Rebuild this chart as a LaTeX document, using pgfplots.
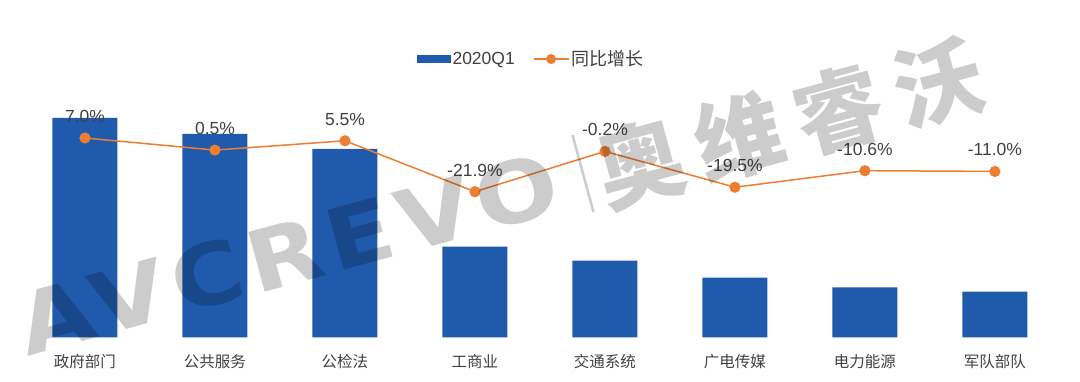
\documentclass[border=0pt]{standalone}
\usepackage{pgfplots}
\pgfplotsset{compat=1.18}
\usepackage{fontspec}
\setmainfont{Liberation Sans}
\newfontfamily\cjk{Noto Sans CJK SC}
\newfontfamily\wmfont{DejaVu Sans}
\definecolor{barblue}{HTML}{1F5AAD}
\definecolor{lineor}{HTML}{ED7D31}
\definecolor{txt}{HTML}{404040}
\begin{document}
\begin{tikzpicture}
\useasboundingbox (0,0) rectangle (1080pt,382pt);
\begin{axis}[
  at={(20pt,44.7pt)}, anchor=south west,
  scale only axis, width=1040pt, height=237.3pt,
  xmin=-0.5, xmax=7.5, ymin=0, ymax=237.3,
  axis line style={draw=none}, tick style={draw=none},
  major tick length=0pt,
  ytick=\empty,
  xtick={0,1,2,3,4,5,6,7},
  xticklabels={政府部门,公共服务,公检法,工商业,交通系统,广电传媒,电力能源,军队部队},
  xticklabel style={font=\cjk\fontsize{15.5}{18}\selectfont, text=txt, anchor=center, yshift=-24pt},
  clip=false,
  legend columns=2,
  legend style={at={(0.4913,1.1728)}, anchor=center, draw=none, fill=none,
    font=\fontsize{17.5}{20}\selectfont, text=txt, inner sep=0pt,
    /tikz/every even column/.append style={column sep=16pt}},
]
\addplot[ybar, bar width=65pt, fill=barblue, draw=none,
  legend image code/.code={\fill[barblue] (0pt,-4pt) rectangle (34pt,4pt);}]
  table {
x y
0 219.3
1 203.3
2 188.3
3 90.6
4 76.6
5 59.6
6 50.0
7 45.6
};
\addlegendentry{2020Q1}
\addlegendimage{legend image code/.code={\draw[lineor, line width=1.5pt] (0pt,0pt) -- (35pt,0pt); \fill[lineor] (17.5pt,0pt) circle (4.8pt);}}
\addlegendentry{{\cjk\fontsize{18}{20}\selectfont 同比增长}}
\end{axis}
\begin{axis}[
  at={(20pt,44.7pt)}, anchor=south west,
  scale only axis, width=1040pt, height=237.3pt,
  xmin=-0.5, xmax=7.5, ymin=-100.27, ymax=27.45,
  hide axis, clip=false,
]
\addplot[lineor, line width=1.5pt, mark=*, mark size=4.8pt,
  mark options={fill=lineor, draw=lineor},
  point meta=explicit symbolic,
  nodes near coords={\pgfplotspointmeta\%},
  every node near coord/.append style={font=\fontsize{17.5}{20}\selectfont, text=txt, anchor=center, yshift=21.7pt}]
  table[meta=lab] {
x y lab
0 7.0 7.0
1 0.5 0.5
2 5.5 5.5
3 -21.9 -21.9
4 -0.2 -0.2
5 -19.5 -19.5
6 -10.6 -10.6
7 -11.0 -11.0
};
\end{axis}
% watermark
\node[rotate=15.2, text=black, text opacity=0.2, inner sep=0pt,
  font=\wmfont\bfseries\fontsize{85}{88}\selectfont\addfontfeature{FakeStretch=1.15,LetterSpace=8}]
  at (288pt,128.3pt) {AVCREVO};
\node[rotate=15.2, fill=black, fill opacity=0.2, minimum width=2.5pt, minimum height=80pt, inner sep=0pt]
  at (583pt,208.5pt) {};
\node[rotate=15.2, text=black, text opacity=0.2, inner sep=0pt,
  font=\cjk\bfseries\fontsize{88}{90}\selectfont\addfontfeature{LetterSpace=17}]
  at (789pt,259pt) {奥维睿沃};
\end{tikzpicture}
\end{document}
